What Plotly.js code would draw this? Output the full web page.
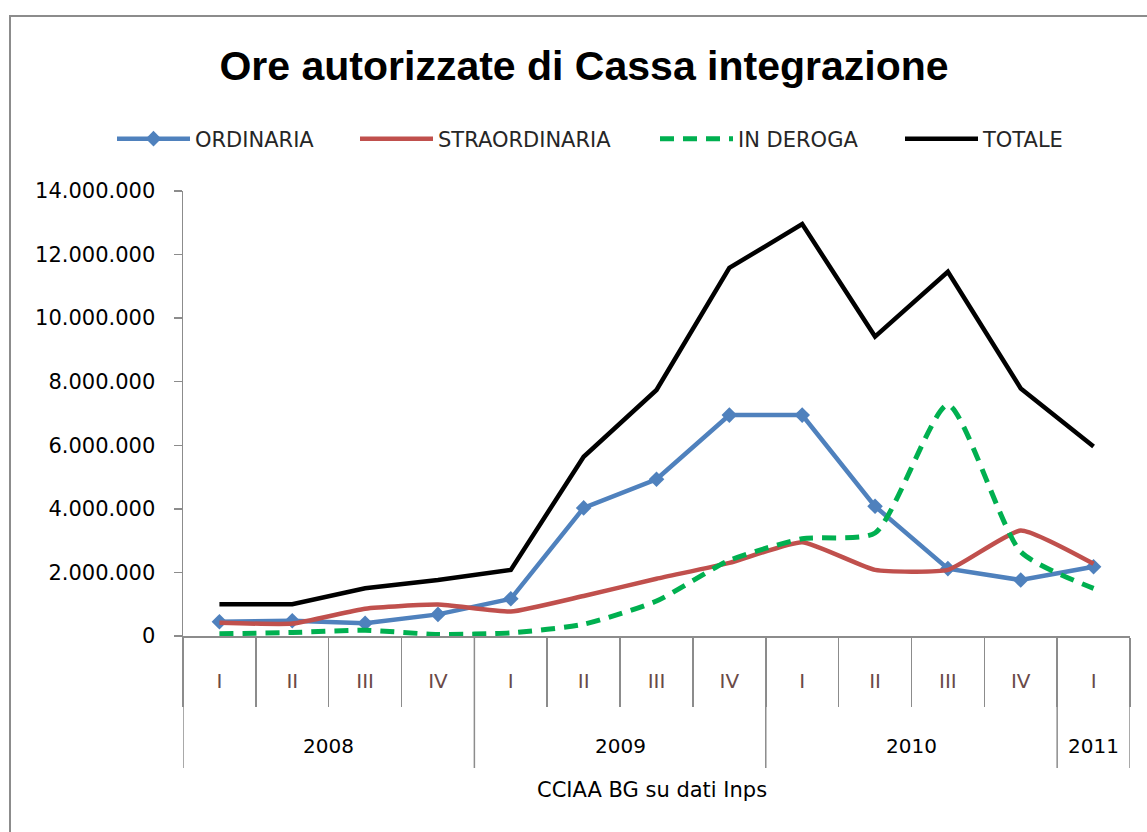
<!DOCTYPE html>
<html>
<head>
<meta charset="utf-8">
<script src="https://cdn.plot.ly/plotly-3.0.1.min.js"></script>
<style>html,body{margin:0;padding:0;background:#fff;}#chart{width:1147px;height:832px;}</style>
</head>
<body>
<div id="chart"></div>
<script>
// ---- data ----
const years    = ['2008','2008','2008','2008','2009','2009','2009','2009','2010','2010','2010','2010','2011'];
const quarters = ['I','II','III','IV','I','II','III','IV','I','II','III','IV','I'];
const ordinaria     = [450000, 480000, 400000, 680000, 1170000, 4030000, 4930000, 6950000, 6950000, 4080000, 2120000, 1760000, 2180000];
const straordinaria = [420000, 390000, 860000, 990000, 770000, 1260000, 1800000, 2300000, 2950000, 2080000, 2080000, 3320000, 2270000];
const inDeroga      = [70000, 110000, 180000, 50000, 100000, 370000, 1100000, 2380000, 3060000, 3240000, 7270000, 2650000, 1500000];
const totale        = [1000000, 1000000, 1500000, 1760000, 2080000, 5640000, 7740000, 11580000, 12960000, 9420000, 11460000, 7790000, 5960000];
const seriesNames = ['ORDINARIA','STRAORDINARIA','IN DEROGA','TOTALE'];
const titleText = 'Ore autorizzate di Cassa integrazione';
const sourceText = 'CCIAA BG su dati Inps';

// ---- build ----
const cats = years.map((y,i)=> y + ' ' + quarters[i]);
const W = 1147, H = 832;
const M = {l:183, r:17, t:191, b:196};
const pw = W - M.l - M.r, ph = H - M.t - M.b;

const traces = [
  {x:cats, y:ordinaria, name:seriesNames[0], type:'scatter', mode:'lines+markers',
   line:{color:'#4F81BD', width:4.5}, marker:{symbol:'diamond', size:12, color:'#4F81BD'}, legend:'legend'},
  {x:cats, y:straordinaria, name:seriesNames[1], type:'scatter', mode:'lines',
   line:{color:'#C0504D', width:4.5, shape:'spline', smoothing:0.45}, legend:'legend2'},
  {x:cats, y:inDeroga, name:seriesNames[2], type:'scatter', mode:'lines',
   line:{color:'#00B050', width:5, dash:'14px,9px', shape:'spline', smoothing:0.6}, legend:'legend3'},
  {x:cats, y:totale, name:seriesNames[3], type:'scatter', mode:'lines',
   line:{color:'#000000', width:4.5}, legend:'legend4'}
];

// year groups
const groups = [];
years.forEach((y,i)=>{
  if(!groups.length || groups[groups.length-1].y !== y) groups.push({y:y, s:i, e:i});
  else groups[groups.length-1].e = i;
});
const shapes = [];
const annotations = [];
const divBottom = -(768 - (H - M.b)) / ph;
groups.forEach(g=>{
  shapes.push({type:'line', xref:'x', yref:'paper', x0:g.s-0.5, x1:g.s-0.5, y0:0, y1:divBottom,
    line:{color:'#8c8c8c', width:1.5}});
  annotations.push({xref:'x', yref:'paper', x:(g.s+g.e)/2, y:-(746-(H-M.b))/ph, yanchor:'middle',
    text:g.y, showarrow:false, font:{family:'DejaVu Sans', size:20, color:'#000'}});
});
const last = groups[groups.length-1];
shapes.push({type:'line', xref:'x', yref:'paper', x0:last.e+0.5, x1:last.e+0.5, y0:0, y1:divBottom,
  line:{color:'#8c8c8c', width:1.5}});
// outer chart frame
shapes.push({type:'rect', xref:'paper', yref:'paper',
  x0:(10-M.l)/pw, x1:(1165-M.l)/pw, y0:-(850-(H-M.b))/ph, y1:((H-M.b)-16)/ph,
  line:{color:'#8c8c8c', width:2}, fillcolor:'rgba(0,0,0,0)'});
annotations.push({xref:'paper', yref:'paper', x:(652-M.l)/pw, y:-(790-(H-M.b))/ph, yanchor:'middle',
  text:sourceText, showarrow:false, font:{family:'DejaVu Sans', size:21, color:'#000'}});

const legFont = {family:'DejaVu Sans', size:21, color:'#262626'};
const legX = [112, 355, 655, 900];
function leg(i){
  return {xref:'container', yref:'container', x:legX[i]/W, y:1-139/H, xanchor:'left', yanchor:'middle',
    orientation:'h', font:legFont, itemwidth:73, bgcolor:'rgba(0,0,0,0)', borderwidth:0};
}

const layout = {
  width:W, height:H, margin:M,
  paper_bgcolor:'#fff', plot_bgcolor:'#fff',
  separators:',.',
  title:{text:titleText, xref:'container', yref:'container', x:584/W, xanchor:'center',
    y:1-66/H, yanchor:'middle', font:{family:'Liberation Sans', size:41, color:'#000', weight:'bold'}},
  showlegend:true,
  legend:leg(0), legend2:leg(1), legend3:leg(2), legend4:leg(3),
  xaxis:{type:'category', tickmode:'array', tickvals:cats, ticktext:quarters,
    tickson:'boundaries', ticks:'outside', ticklen:69, tickwidth:1.5, tickcolor:'#8c8c8c',
    ticklabelstandoff:26,
    showline:true, linecolor:'#8c8c8c', linewidth:1.5, showgrid:false, zeroline:false,
    range:[-0.5, cats.length-0.5], fixedrange:true,
    tickfont:{family:'DejaVu Sans', size:20, color:'#6a4a48'}},
  yaxis:{range:[0,14000000], dtick:2000000, tick0:0, tickformat:',d',
    ticks:'outside', ticklen:8, tickwidth:1.5, tickcolor:'#8c8c8c',
    showline:true, linecolor:'#8c8c8c', linewidth:1.5, showgrid:false, zeroline:false,
    ticklabelstandoff:14,
    tickfont:{family:'DejaVu Sans', size:21, color:'#000'}},
  shapes:shapes, annotations:annotations
};
Plotly.newPlot('chart', traces, layout, {displayModeBar:false, staticPlot:true});
</script>
</body>
</html>
